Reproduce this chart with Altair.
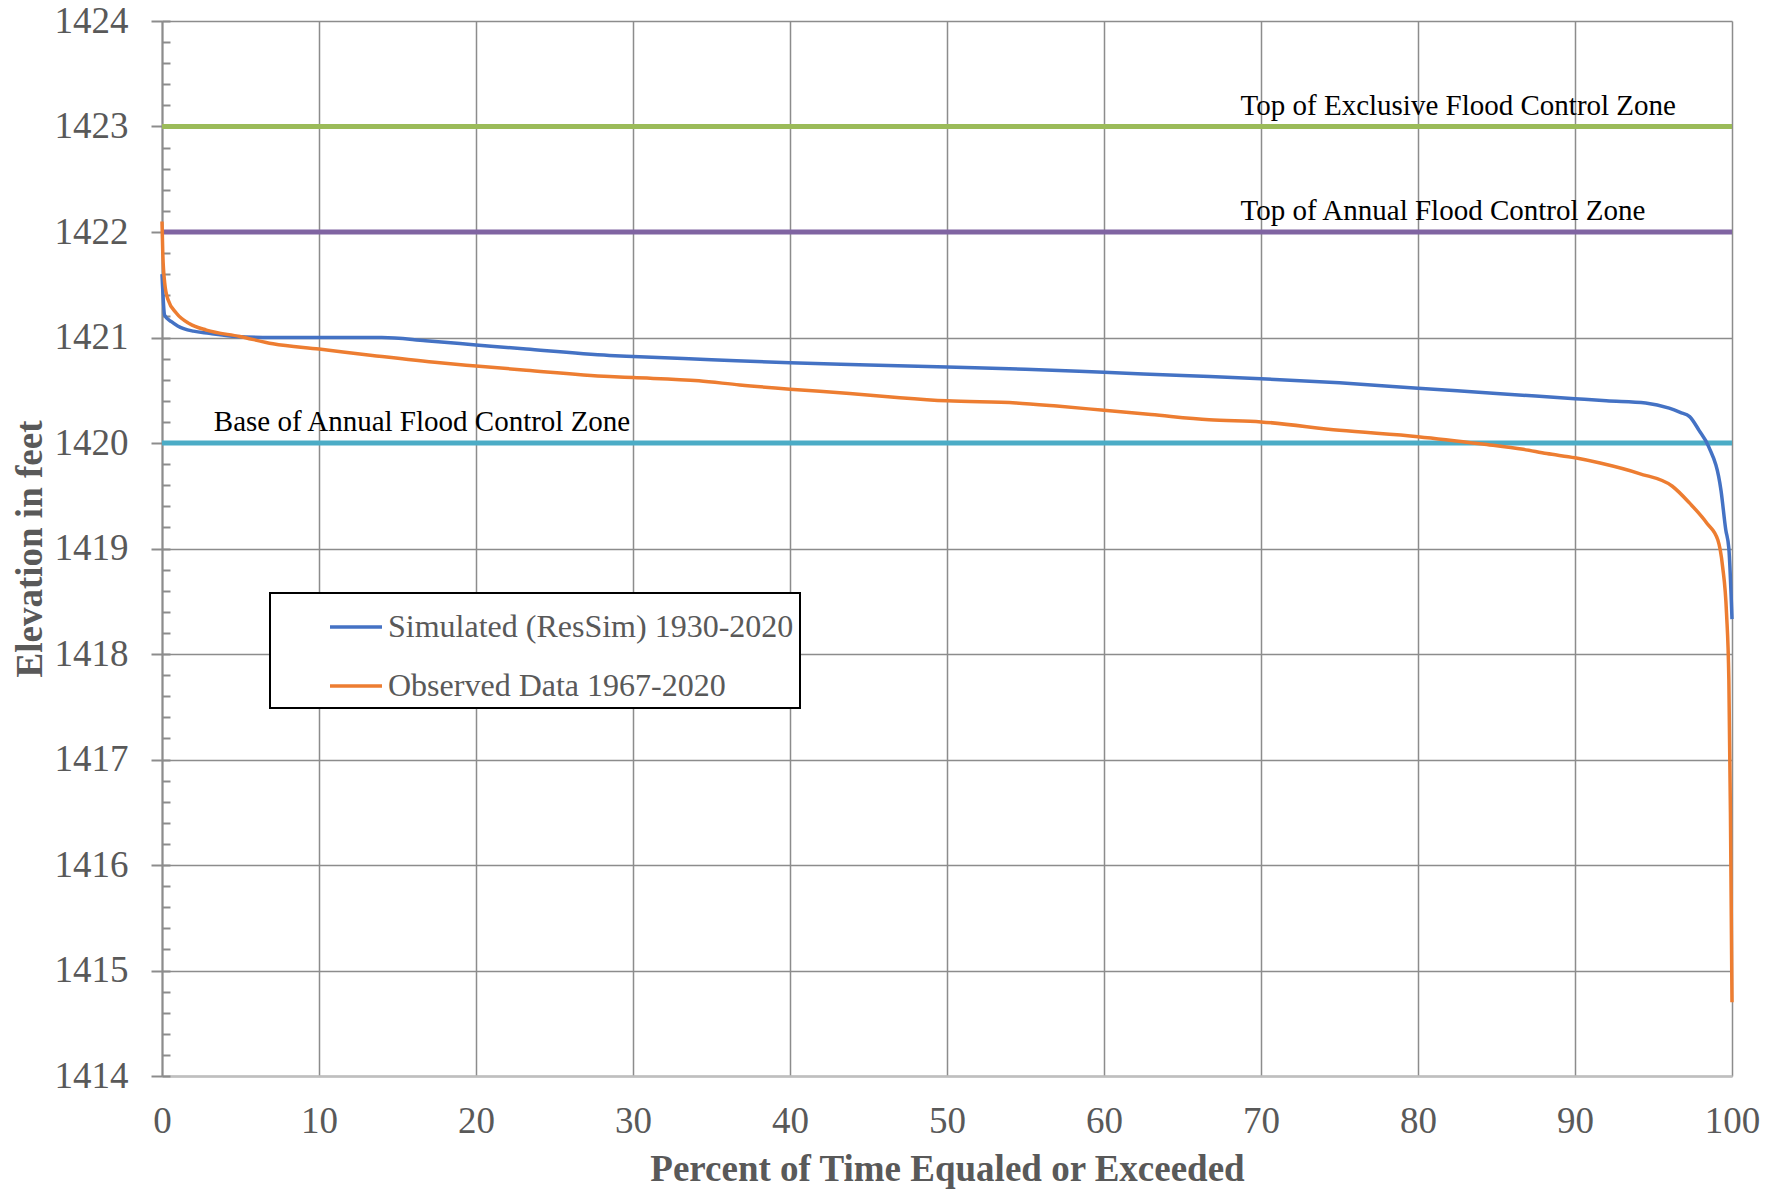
import altair as alt
import pandas as pd
import numpy as np

# ---- data ----
sim_x = [0, 0.17, 0.6, 1.0, 2.0, 3.0, 4.7, 7.0, 10, 14, 16.8, 20, 23.2, 28.5, 30, 35, 40, 45, 50, 55,
         60, 65, 70, 75, 80, 85, 90, 92, 94.5, 96, 96.7, 97.3, 97.9, 98.5, 99.3, 99.6, 99.8, 100]
sim_y = [1421.6, 1421.21, 1421.15, 1421.11, 1421.06, 1421.04, 1421.01, 1421.0, 1421.0, 1421.0, 1420.97,
         1420.93, 1420.89, 1420.83, 1420.82, 1420.79, 1420.76, 1420.74, 1420.72, 1420.70, 1420.67, 1420.64,
         1420.61, 1420.57, 1420.52, 1420.47, 1420.42, 1420.40, 1420.38, 1420.33, 1420.29, 1420.25, 1420.12,
         1419.97, 1419.55, 1419.18, 1419.0, 1418.33]

obs_x = [0, 0.05, 0.17, 0.38, 0.92, 1.76, 2.83, 4.95, 7.07, 10, 13.4, 17.7, 20, 23.2, 28.5, 30, 34.2,
         36.8, 40, 43.8, 47, 50, 54.4, 57, 60, 63, 66.7, 70, 75, 80, 84.1, 86.7, 88.2, 90, 91.6, 94.1,
         96.2, 97.3, 98.4, 99.1, 99.4, 99.65, 99.8, 99.9, 100]
obs_y = [1422.10, 1421.80, 1421.52, 1421.36, 1421.23, 1421.13, 1421.07, 1421.01, 1420.94, 1420.89,
         1420.83, 1420.76, 1420.73, 1420.69, 1420.63, 1420.62, 1420.59, 1420.55, 1420.51, 1420.47,
         1420.43, 1420.40, 1420.38, 1420.35, 1420.31, 1420.27, 1420.22, 1420.20, 1420.12, 1420.06,
         1419.99, 1419.94, 1419.90, 1419.86, 1419.81, 1419.71, 1419.59, 1419.43, 1419.24, 1419.08,
         1418.83, 1418.39, 1417.75, 1416.5, 1414.70]

series_names = ["Simulated (ResSim) 1930-2020", "Observed Data 1967-2020"]
series_colors = ["#4472C4", "#ED7D31"]

zone_names = ["Top of Exclusive Flood Control Zone", "Top of Annual Flood Control Zone",
              "Base of Annual Flood Control Zone"]
zone_elev = [1423, 1422, 1420]
zone_label_x = [68.7, 68.7, 3.3]
zone_colors = ["#9BBB59", "#8064A2", "#4BACC6"]

x_ticks = list(range(0, 101, 10))
y_ticks = list(range(1414, 1425))
y_minor = [round(v, 1) for v in np.arange(1414, 1424.01, 0.2)]

W, H = 1570, 1055
FONT = "Liberation Serif"
GRID = "#8c8c8c"
TXT = "#595959"

sim_df = pd.DataFrame({"x": sim_x, "y": sim_y, "series": series_names[0]})
obs_df = pd.DataFrame({"x": obs_x, "y": obs_y, "series": series_names[1]})
zone_df = pd.DataFrame({"zone": zone_names, "elev": zone_elev, "lx": zone_label_x})

xscale = alt.Scale(domain=[0, 100], nice=False, zero=False)
yscale = alt.Scale(domain=[1414, 1424], nice=False, zero=False)

x_axis = alt.Axis(values=x_ticks, grid=True, gridColor=GRID, gridWidth=1.5,
                  domainColor="#bfbfbf", domainWidth=2.5, ticks=False,
                  labelPadding=27, labelFont=FONT, labelFontSize=37, labelColor=TXT,
                  labelFlush=False, labelOverlap=False,
                  title="Percent of Time Equaled or Exceeded", titleFont=FONT, titleFontSize=37,
                  titleFontWeight="bold", titleColor=TXT, titlePadding=12)

y_axis = alt.Axis(values=y_ticks, format="d", grid=True, gridColor=GRID, gridWidth=1.5,
                  domainColor=GRID, domainWidth=2, tickColor=GRID, tickWidth=2, tickSize=11,
                  labelPadding=23, labelFont=FONT, labelFontSize=37, labelColor=TXT,
                  labelOverlap=False,
                  title="Elevation in feet", titleFont=FONT, titleFontSize=37,
                  titleFontWeight="bold", titleColor=TXT, titlePadding=5)

minor_axis = alt.Axis(orient="right", offset=-W, values=y_minor, labels=False, domain=False,
                      grid=False, tickSize=8, tickColor=GRID, tickWidth=2, title="")

color_scale = alt.Scale(domain=series_names, range=series_colors)
legend = alt.Legend(title=None, orient="none", legendX=108, legendY=572, direction="vertical",
                    symbolType="stroke", symbolSize=2704, symbolStrokeWidth=3.5,
                    symbolOffset=52, labelOffset=4,
                    labelFont=FONT, labelFontSize=32, labelColor=TXT, labelLimit=800,
                    rowPadding=15, padding=6, strokeColor="black", fillColor="white")

rules = alt.Chart(zone_df).mark_rule(strokeWidth=5).encode(
    y=alt.Y("elev:Q", scale=yscale, axis=minor_axis),
    stroke=alt.Stroke("zone:N", scale=alt.Scale(domain=zone_names, range=zone_colors), legend=None),
)

sim_line = alt.Chart(sim_df).mark_line(strokeWidth=3.5, interpolate="monotone").encode(
    x=alt.X("x:Q", scale=xscale, axis=x_axis),
    y=alt.Y("y:Q", scale=yscale, axis=y_axis),
    color=alt.Color("series:N", scale=color_scale, legend=legend),
)

obs_line = alt.Chart(obs_df).mark_line(strokeWidth=3.5, interpolate="monotone").encode(
    x=alt.X("x:Q", scale=xscale, axis=x_axis),
    y=alt.Y("y:Q", scale=yscale, axis=None),
    color=alt.Color("series:N", scale=color_scale, legend=legend),
)

labels = alt.Chart(zone_df).mark_text(align="left", baseline="alphabetic", dy=-12, fontSize=29,
                                       font=FONT, color="black").encode(
    x=alt.X("lx:Q", scale=xscale, axis=x_axis),
    y=alt.Y("elev:Q", scale=yscale, axis=None),
    text="zone:N",
)

chart = alt.layer(rules, sim_line, obs_line, labels).resolve_axis(y="independent").properties(
    width=W, height=H,
    autosize=alt.AutoSizeParams(type="none"),
    padding={"left": 154, "top": 13, "right": 41, "bottom": 116},
    background="white",
).configure_view(strokeWidth=0).configure_legend(strokeWidth=2)

chart.save("out.html", embed_options={"renderer": "svg", "actions": False})
